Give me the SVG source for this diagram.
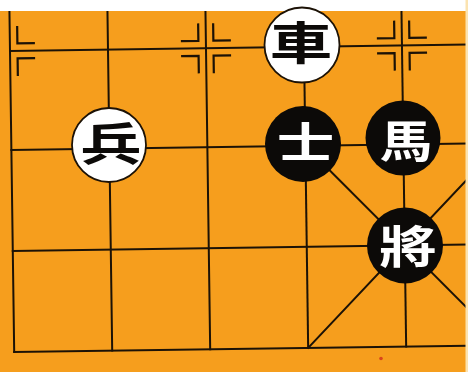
<svg xmlns="http://www.w3.org/2000/svg" width="468" height="372" viewBox="0 0 468 372">
  <defs>
    <style>
      .ln { stroke: #1c1206; stroke-width: 2; fill: none; stroke-linecap: square; }
      .mk { stroke: #1c1206; stroke-width: 2.2; fill: none; stroke-linecap: butt; }
      .wp { fill: #ffffff; stroke: #1c1206; stroke-width: 1.8; }
      .bp { fill: #0c0a08; }
      .ch { font-family: "Noto Sans CJK TC", "Noto Sans CJK SC", sans-serif; font-weight: 700; font-size: 50px; text-anchor: middle; }
      .wt { fill: #0c0a08; }
      .bt { fill: #ffffff; }
    </style>
    <g id="mark-full">
      <path class="mk" d="M -25,-7.5 H -7.5 V -25 M 25,-7.5 H 7.5 V -25 M -25,7.5 H -7.5 V 25 M 25,7.5 H 7.5 V 25"/>
    </g>
    <g id="mark-right">
      <path class="mk" d="M 25,-7.5 H 7.5 V -25 M 25,7.5 H 7.5 V 25"/>
    </g>
  </defs>

  <rect x="0" y="0" width="468" height="372" fill="#f69e1d"/>

  <g id="board" transform="rotate(-0.8 10 51)">
    <g id="grid">
      <line class="ln" x1="10" y1="0" x2="10" y2="352"/>
      <line class="ln" x1="108" y1="0" x2="108" y2="352"/>
      <line class="ln" x1="206" y1="0" x2="206" y2="352"/>
      <line class="ln" x1="304" y1="0" x2="304" y2="352"/>
      <line class="ln" x1="402" y1="0" x2="402" y2="352"/>
      <line class="ln" x1="10" y1="51" x2="520" y2="51"/>
      <line class="ln" x1="10" y1="150" x2="520" y2="150"/>
      <line class="ln" x1="10" y1="251" x2="520" y2="251"/>
      <line class="ln" x1="10" y1="352" x2="520" y2="352"/>
      <line class="ln" x1="304" y1="150" x2="500" y2="352"/>
      <line class="ln" x1="304" y1="352" x2="500" y2="150"/>
    </g>
    <g id="markers">
      <use href="#mark-right" transform="translate(10 51)"/>
      <use href="#mark-full" transform="translate(206 51)"/>
      <use href="#mark-full" transform="translate(402 51)"/>
    </g>
  </g>

  <rect x="0" y="0" width="468" height="11" fill="#ffffff"/>
  <rect x="465.5" y="0" width="2.5" height="372" fill="#fbe3b0"/>
  <circle cx="381" cy="358.5" r="1.8" fill="#d9461c"/>

  <g id="piece-bing">
    <circle class="wp" cx="109" cy="145" r="37"/>
    <text class="ch wt" transform="translate(111 144) scale(1.22 0.9)" x="0" y="19">兵</text>
  </g>
  <g id="piece-ju">
    <circle class="wp" cx="302" cy="45" r="37.5"/>
    <text class="ch wt" transform="translate(301 42.5) scale(1.25 0.9)" x="0" y="19">車</text>
  </g>
  <g id="piece-shi">
    <circle class="bp" cx="303" cy="144" r="38"/>
    <text class="ch bt" transform="translate(305.5 141.5) scale(1.15 0.85)" x="0" y="19">士</text>
  </g>
  <g id="piece-ma">
    <circle class="bp" cx="403" cy="138" r="37.5"/>
    <text class="ch bt" transform="translate(406 141) scale(1.05 0.88)" x="0" y="19">馬</text>
  </g>
  <g id="piece-jiang">
    <circle class="bp" cx="405" cy="245.5" r="38"/>
    <text class="ch bt" transform="translate(408 246.5) scale(1.15 0.9)" x="0" y="19">將</text>
  </g>
</svg>
